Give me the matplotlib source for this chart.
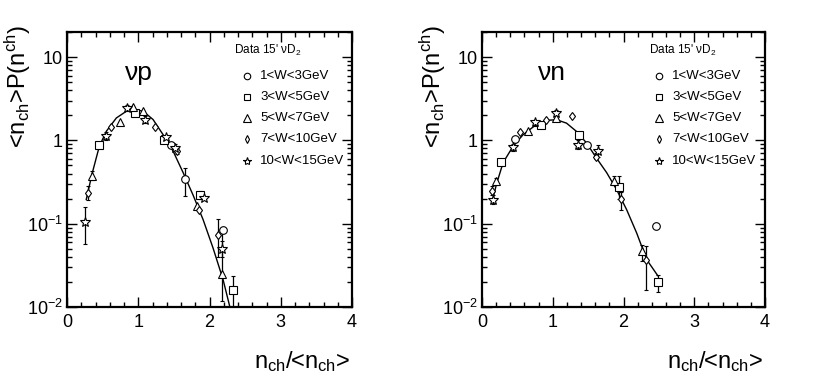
import matplotlib
matplotlib.use("Agg")
import matplotlib.pyplot as plt
from matplotlib.ticker import FixedLocator, FixedFormatter, MultipleLocator, LogLocator, NullFormatter

plt.rcParams['font.family'] = ['Liberation Sans', 'DejaVu Sans']
plt.rcParams['mathtext.fontset'] = 'custom'
plt.rcParams['mathtext.rm'] = 'Liberation Sans'
plt.rcParams['mathtext.it'] = 'Liberation Sans'
plt.rcParams['mathtext.default'] = 'regular'

# ---------------- data: nu p ----------------
p_circ_x = [1.457, 1.653, 2.185]
p_circ_y = [0.87, 0.343, 0.083]
p_circ_lo = [0.87, 0.216, 0.083]
p_circ_hi = [0.87, 0.464, 0.083]

p_sq_x = [0.454, 0.951, 1.358, 1.864, 2.325]
p_sq_y = [0.87, 2.11, 1.02, 0.222, 0.0162]
p_sq_lo = [0.87, 2.11, 1.02, 0.20, 0.008]
p_sq_hi = [0.87, 2.11, 1.02, 0.245, 0.0234]

p_tri_x = [0.356, 0.74, 0.927, 1.063, 1.83, 2.171]
p_tri_y = [0.377, 1.66, 2.51, 2.27, 0.162, 0.0246]
p_tri_lo = [0.33, 1.66, 2.51, 2.27, 0.162, 0.0118]
p_tri_hi = [0.43, 1.66, 2.51, 2.27, 0.162, 0.085]

p_dia_x = [0.30, 0.613, 1.236, 1.546, 1.853, 2.124]
p_dia_y = [0.233, 1.43, 1.46, 0.738, 0.148, 0.074]
p_dia_lo = [0.19, 1.43, 1.46, 0.68, 0.148, 0.040]
p_dia_hi = [0.28, 1.43, 1.46, 0.80, 0.148, 0.114]

p_star_x = [0.258, 0.543, 0.843, 1.101, 1.396, 1.518, 1.923, 2.173]
p_star_y = [0.106, 1.12, 2.44, 1.77, 1.09, 0.82, 0.203, 0.050]
p_star_lo = [0.0575, 1.0, 2.25, 1.6, 1.09, 0.75, 0.203, 0.040]
p_star_hi = [0.158, 1.25, 2.65, 1.95, 1.09, 0.90, 0.203, 0.062]

p_fit_x = [0.27, 0.356, 0.454, 0.553, 0.693, 0.834, 0.951, 1.068, 1.208,
           1.349, 1.49, 1.63, 1.77, 1.91, 2.05, 2.19, 2.286]
p_fit_y = [0.195, 0.41, 0.85, 1.29, 1.86, 2.24, 2.34, 2.24, 1.78,
           1.17, 0.74, 0.41, 0.22, 0.112, 0.051, 0.0214, 0.01]

# ---------------- data: nu n ----------------
n_circ_x = [0.472, 1.478, 2.455]
n_circ_y = [1.04, 0.87, 0.093]
n_circ_lo = [1.04, 0.87, 0.093]
n_circ_hi = [1.04, 0.87, 0.093]

n_sq_x = [0.269, 0.831, 1.374, 1.941, 2.483]
n_sq_y = [0.55, 1.54, 1.16, 0.275, 0.0199]
n_sq_lo = [0.55, 1.54, 1.16, 0.20, 0.0151]
n_sq_hi = [0.55, 1.54, 1.16, 0.37, 0.024]

n_tri_x = [0.203, 0.652, 1.044, 1.866, 2.257]
n_tri_y = [0.322, 1.31, 1.87, 0.321, 0.0467]
n_tri_lo = [0.29, 1.31, 1.87, 0.29, 0.036]
n_tri_hi = [0.35, 1.31, 1.87, 0.37, 0.055]

n_dia_x = [0.146, 0.534, 0.902, 1.266, 1.607, 1.96, 2.314]
n_dia_y = [0.249, 1.25, 1.74, 1.98, 0.64, 0.2, 0.0363]
n_dia_lo = [0.22, 1.25, 1.74, 1.98, 0.60, 0.148, 0.0162]
n_dia_hi = [0.28, 1.25, 1.74, 1.98, 0.70, 0.24, 0.054]

n_star_x = [0.156, 0.439, 0.756, 1.048, 1.36, 1.644]
n_star_y = [0.194, 0.824, 1.64, 2.13, 0.887, 0.755]
n_star_lo = [0.17, 0.75, 1.5, 1.95, 0.78, 0.64]
n_star_hi = [0.22, 0.90, 1.75, 2.3, 1.0, 0.88]

n_fit_x = [0.146, 0.203, 0.298, 0.439, 0.581, 0.746, 0.911, 1.053, 1.195,
           1.336, 1.478, 1.62, 1.762, 1.903, 2.045, 2.187, 2.328, 2.484]
n_fit_y = [0.185, 0.295, 0.54, 0.85, 1.17, 1.5, 1.74, 1.77, 1.61,
           1.28, 0.93, 0.61, 0.41, 0.256, 0.147, 0.077, 0.037, 0.0238]

legend_labels = ['1<W<3GeV', '3<W<5GeV', '5<W<7GeV', '7<W<10GeV', '10<W<15GeV']
legend_header = "Data 15' \u03bdD$_2$"
panel_labels = ['\u03bdp', '\u03bdn']
ytick_vals = [0.01, 0.1, 1, 10]
ytick_text = ['$10^{-2}$', '$10^{-1}$', '1', '10']
xtick_vals = [0, 1, 2, 3, 4]
xtick_text = ['0', '1', '2', '3', '4']

markers = ['o', 's', '^', 'd', '*']
msizes = [5.5, 5.5, 6.0, 4.5, 7.0]

W, H = 830, 388
fig = plt.figure(figsize=(W / 100, H / 100), dpi=100)


def px_axes(l, r, t, b):
    return [l / W, (H - b) / H, (r - l) / W, (b - t) / H]


panels = [
    dict(rect=px_axes(67, 352, 32, 307), label=panel_labels[0], lab_x=125,
         series=[(p_circ_x, p_circ_y, p_circ_lo, p_circ_hi),
                 (p_sq_x, p_sq_y, p_sq_lo, p_sq_hi),
                 (p_tri_x, p_tri_y, p_tri_lo, p_tri_hi),
                 (p_dia_x, p_dia_y, p_dia_lo, p_dia_hi),
                 (p_star_x, p_star_y, p_star_lo, p_star_hi)],
         fit=(p_fit_x, p_fit_y), ylab_x=18, leg=(234, 247, 260)),
    dict(rect=px_axes(482, 765, 32, 307), label=panel_labels[1], lab_x=538,
         series=[(n_circ_x, n_circ_y, n_circ_lo, n_circ_hi),
                 (n_sq_x, n_sq_y, n_sq_lo, n_sq_hi),
                 (n_tri_x, n_tri_y, n_tri_lo, n_tri_hi),
                 (n_dia_x, n_dia_y, n_dia_lo, n_dia_hi),
                 (n_star_x, n_star_y, n_star_lo, n_star_hi)],
         fit=(n_fit_x, n_fit_y), ylab_x=433, leg=(649, 659, 672)),
]

for P in panels:
    ax = fig.add_axes(P['rect'])
    ax.set_yscale('log')
    ax.set_xlim(0, 4)
    ax.set_ylim(0.01, 20)
    ax.plot(P['fit'][0], P['fit'][1], color='black', lw=1.0, zorder=2)
    for (xs, ys, lo, hi), m, ms in zip(P['series'], markers, msizes):
        ylo = [y - l for y, l in zip(ys, lo)]
        yhi = [h - y for y, h in zip(ys, hi)]
        ax.errorbar(xs, ys, yerr=[ylo, yhi], fmt=m, ms=ms, mfc='white', mec='black',
                    mew=0.8, ecolor='black', elinewidth=0.9, capsize=1.5, capthick=0.8,
                    zorder=3)
    for s in ax.spines.values():
        s.set_linewidth(1.6)
    ax.xaxis.set_major_locator(FixedLocator(xtick_vals))
    ax.xaxis.set_major_formatter(FixedFormatter(xtick_text))
    ax.xaxis.set_minor_locator(MultipleLocator(0.2))
    ax.yaxis.set_major_locator(FixedLocator(ytick_vals))
    ax.yaxis.set_major_formatter(FixedFormatter(ytick_text))
    ax.yaxis.set_minor_locator(LogLocator(base=10, subs=range(2, 10)))
    ax.yaxis.set_minor_formatter(NullFormatter())
    ax.tick_params(which='both', direction='in', top=True, right=True, width=1.0,
                   labelsize=13)
    ax.tick_params(which='major', length=7)
    ax.tick_params(which='minor', length=3.5)
    ax.tick_params(axis='x', pad=5)
    ax.tick_params(axis='y', pad=3)

    # panel label
    fig.text(P['lab_x'] / W, (H - 80) / H, P['label'], fontsize=19,
             ha='left', va='baseline')

    # y label
    fig.text(P['ylab_x'] / W, (H - 25) / H, '<n$_{ch}$>P(n$^{ch}$)', rotation=90,
             fontsize=17, ha='center', va='top')
    # x label
    fig.text((P['rect'][0] + P['rect'][2]) - 2 / W, (H - 362) / H,
             'n$_{ch}$/<n$_{ch}$>', fontsize=17, ha='right', va='center')

    # legend
    hx, mx, tx = P['leg']
    fig.text(hx / W, (H - 50) / H, legend_header, fontsize=8.5, ha='left', va='center')
    ys_leg = [76, 97, 118, 139, 161]
    for yy, m, ms, lab in zip(ys_leg, markers, msizes, legend_labels):
        fig.lines.append(plt.Line2D([mx / W], [(H - yy) / H], marker=m, ms=ms * 0.85,
                                    mfc='white', mec='black', mew=0.8, ls='none',
                                    transform=fig.transFigure))
        fig.text(tx / W, (H - yy) / H, lab, fontsize=9.5, ha='left', va='center')

fig.savefig('out.png', dpi=100)
